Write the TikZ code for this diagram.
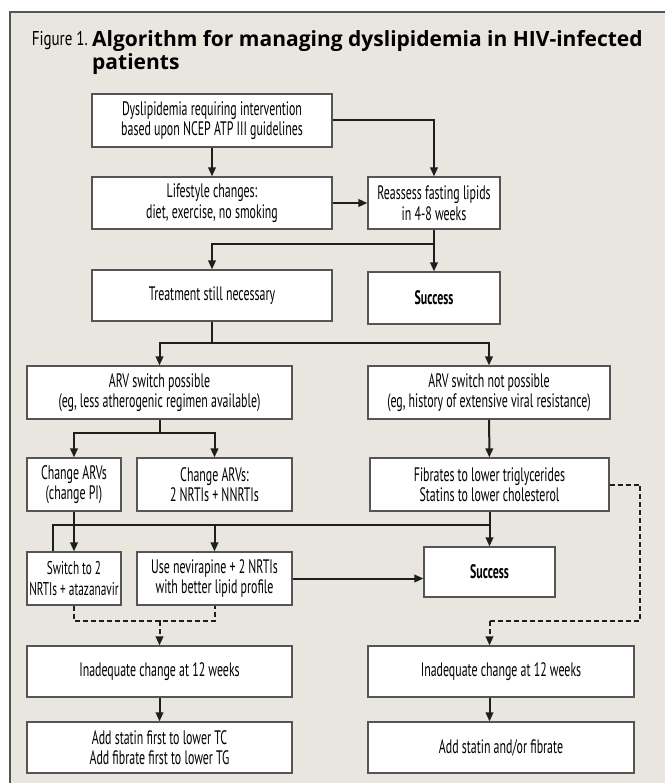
\documentclass[tikz,border=0pt]{standalone}
\usepackage{fontspec}
\setmainfont{PT Sans}[FakeStretch=0.61]
\newfontfamily\titlefont{Open Sans}
\newfontfamily\labelfont{PT Sans}[FakeStretch=0.75]
\usepackage{tikz}
\definecolor{paper}{RGB}{233,230,224}
\definecolor{frame}{RGB}{85,85,85}
\definecolor{ink}{RGB}{30,30,30}
\usetikzlibrary{arrows.meta}
\tikzset{
    box/.style = {draw=frame, line width=1.2pt, fill=white, align=center,
        inner sep=1pt, font=\fontsize{19.5}{20.5}\selectfont},
    link/.style = {draw=ink, line width=2pt},
    flow/.style = {link, -{Triangle[length=9pt,width=7.5pt]}},
    dashlink/.style = {link, dash pattern=on 5pt off 3pt},
    dashflow/.style = {dashlink, -{Triangle[length=9pt,width=7.5pt]}},
}

\begin{document}
\begin{tikzpicture}[x=1pt,y=-1pt,line join=miter]
\useasboundingbox (0,0) rectangle (665,783);
\fill[white] (0,0) rectangle (665,783);
\fill[paper] (10,12) rectangle (665,783);
\draw[frame, line width=1.2pt] (10,783) -- (10,12) -- (665,12);

\node[anchor=north west, inner sep=0pt, align=left,
      font=\titlefont\bfseries\fontsize{21}{23}\selectfont] (title) at (92,30)
      {Algorithm for managing dyslipidemia in HIV-infected\\patients};
\node[anchor=base east, inner sep=0pt, font=\labelfont\fontsize{20}{22}\selectfont] (figno) at (88,46) {Figure 1.};

\node[box, minimum width=240pt, minimum height=53pt] (dyslip) at (212,120.5)
      {Dyslipidemia requiring intervention\\based upon NCEP ATP III guidelines};
\node[box, minimum width=240pt, minimum height=52pt] (lifestyle) at (212,203)
      {Lifestyle changes:\\diet, exercise, no smoking};
\node[box, minimum width=132pt, minimum height=52pt] (reassess) at (434,203)
      {Reassess fasting lipids\\in 4-8 weeks};
\node[box, minimum width=240pt, minimum height=51pt] (treat) at (212,295.5)
      {Treatment still necessary};
\node[box, minimum width=132pt, minimum height=52pt] (success1) at (434,298)
      {\bfseries Success};
\node[box, minimum width=265pt, minimum height=53pt] (arvyes) at (159.5,392.5)
      {ARV switch possible\\(eg, less atherogenic regimen available)};
\node[box, minimum width=242pt, minimum height=53pt] (arvno) at (489,392.5)
      {ARV switch not possible\\(eg, history of extensive viral resistance)};
\node[box, minimum width=94pt, minimum height=53pt] (chgpi) at (74,484.5)
      {Change ARVs\\(change PI)};
\node[box, minimum width=155pt, minimum height=53pt] (chgnn) at (214.5,484.5)
      {Change ARVs:\\2 NRTIs + NNRTIs};
\node[box, minimum width=239pt, minimum height=53pt] (fibrates) at (489.5,484.5)
      {Fibrates to lower triglycerides\\Statins to lower cholesterol};
\node[box, minimum width=94pt, minimum height=53pt, font=\fontsize{18.5}{20.5}\selectfont] (switch) at (74,578.5)
      {Switch to 2\\NRTIs + atazanavir};
\node[box, minimum width=155pt, minimum height=53pt] (nevira) at (214.5,578.5)
      {Use nevirapine + 2 NRTIs\\with better lipid profile};
\node[box, minimum width=131pt, minimum height=50pt] (success2) at (489.5,572)
      {\bfseries Success};
\node[box, minimum width=265pt, minimum height=51pt] (inadL) at (159.5,671.5)
      {Inadequate change at 12 weeks};
\node[box, minimum width=266pt, minimum height=51pt] (inadR) at (501,671.5)
      {Inadequate change at 12 weeks};
\node[box, minimum width=265pt, minimum height=51pt] (addL) at (159.5,747.5)
      {Add statin first to lower TC\\Add fibrate first to lower TG};
\node[box, minimum width=266pt, minimum height=51pt] (addR) at (501,747.5)
      {Add statin and/or fibrate};

\coordinate (j1) at (434,244);
\coordinate (j2) at (212,343);
\coordinate (j3) at (159.5,433);
\coordinate (j4) at (489.5,525);
\coordinate (j5) at (53,525);
\coordinate (d1) at (159.5,621);
\coordinate (d2) at (640,621);
\coordinate (d3) at (489.5,621);

\draw[flow] (dyslip) -- (lifestyle);
\draw[flow] (dyslip.east) -| (reassess.north);
\draw[flow] (lifestyle) -- (reassess);
\draw[link] (reassess.south) -- (j1);
\draw[flow] (j1) -- (success1);
\draw[flow] (j1) -| (treat.north);
\draw[link] (treat.south) -- (j2);
\draw[flow] (j2) -| (arvyes.north);
\draw[flow] (j2) -| (arvno.north);
\draw[link] (arvyes.south) -- (j3);
\draw[flow] (j3) -| (chgpi.north);
\draw[flow] (j3) -| (chgnn.north);
\draw[flow] (arvno) -- (fibrates);
\draw[flow] (chgpi) -- (switch);
\draw[flow] (fibrates.south) -- (success2.north);
\draw[link] (j4) -- (j5) -- (j5 |- switch.north);
\draw[flow] (nevira.north |- j4) -- (nevira.north);
\draw[flow] (nevira.east) -- (nevira.east -| success2.west);
\draw[dashlink] (switch.south) |- (d1) -| (nevira.south);
\draw[dashflow] (d1) -- (inadL);
\draw[dashlink] (fibrates.east) -| (d2) -- (d3);
\draw[dashflow] (d3) -- (d3 |- inadR.north);
\draw[flow] (inadL) -- (addL);
\draw[flow] (inadR.south -| d3) -- (d3 |- addR.north);
\end{tikzpicture}
\end{document}
